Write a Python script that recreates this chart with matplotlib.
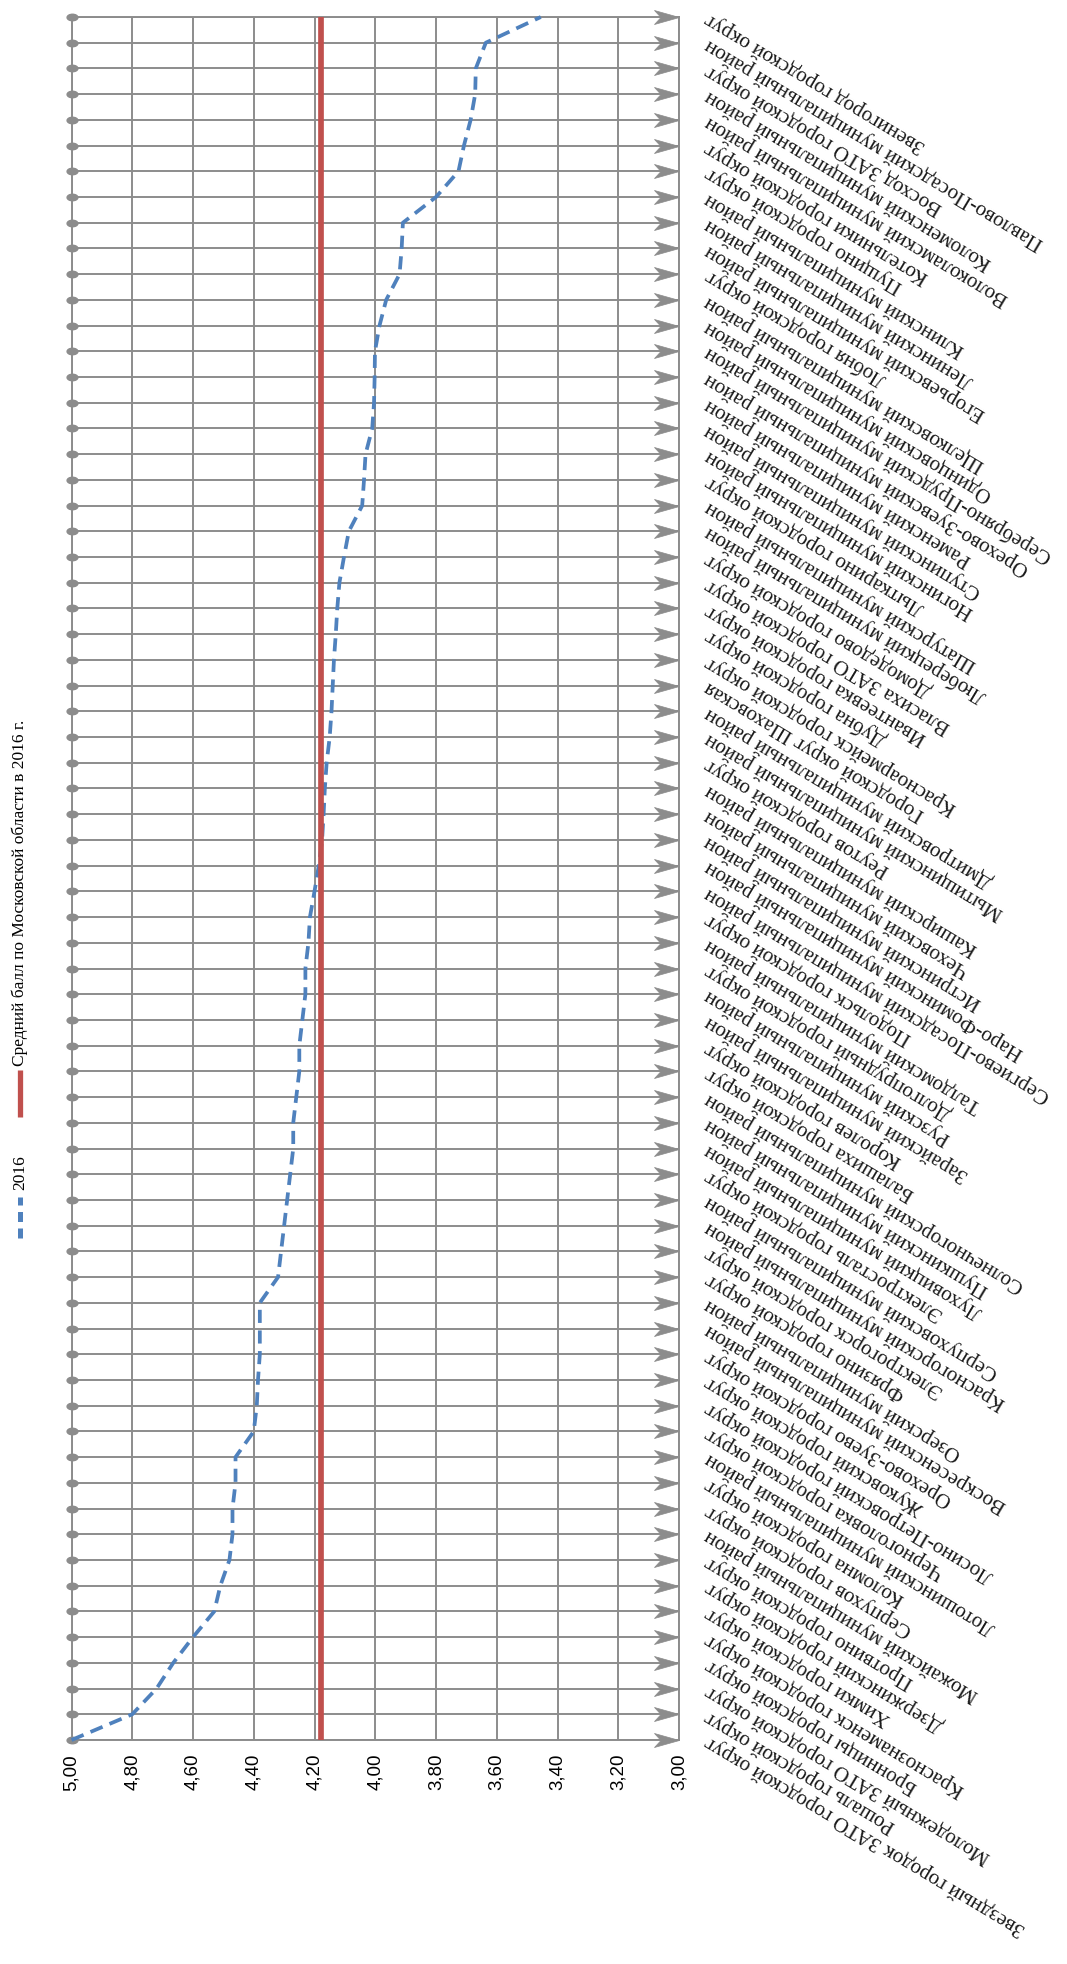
import numpy as np
import matplotlib
matplotlib.use("Agg")
import matplotlib.pyplot as plt
from matplotlib.markers import MarkerStyle
from matplotlib.path import Path
from matplotlib.transforms import Affine2D
from matplotlib.lines import Line2D

# Categories listed from the bottom of the chart (first) to the top (last)
categories = [
    "Звездный городок ЗАТО городской округ",
    "Рошаль городской округ",
    "Молодежный ЗАТО городской округ",
    "Бронницы городской округ",
    "Краснознаменск городской округ",
    "Химки городской округ",
    "Дзержинский городской округ",
    "Протвино городской округ",
    "Можайский муниципальный район",
    "Серпухов городской округ",
    "Коломна городской округ",
    "Лотошинский муниципальный район",
    "Черноголовка городской округ",
    "Лосино-Петровский городской округ",
    "Жуковский городской округ",
    "Орехово-Зуево городской округ",
    "Воскресенский муниципальный район",
    "Озерский муниципальный район",
    "Фрязино городской округ",
    "Электрогорск городской округ",
    "Красногорский муниципальный район",
    "Серпуховский муниципальный район",
    "Электросталь городской округ",
    "Луховицкий муниципальный район",
    "Пушкинский муниципальный район",
    "Солнечногорский муниципальный район",
    "Балашиха городской округ",
    "Королев городской округ",
    "Зарайский муниципальный район",
    "Рузский муниципальный район",
    "Долгопрудный городской округ",
    "Талдомский муниципальный район",
    "Подольск городской округ",
    "Сергиево-Посадский муниципальный район",
    "Наро-Фоминский муниципальный район",
    "Истринский муниципальный район",
    "Чеховский муниципальный район",
    "Каширский муниципальный район",
    "Реутов городской округ",
    "Мытищинский муниципальный район",
    "Дмитровский муниципальный район",
    "Городской округ Шаховская",
    "Красноармейск городской округ",
    "Дубна городской округ",
    "Ивантеевка городской округ",
    "Власиха ЗАТО городской округ",
    "Домодедово городской округ",
    "Люберецкий муниципальный район",
    "Шатурский муниципальный район",
    "Лыткарино городской округ",
    "Ногинский муниципальный район",
    "Ступинский муниципальный район",
    "Раменский муниципальный район",
    "Орехово-Зуевский муниципальный район",
    "Серебряно-Прудский муниципальный район",
    "Одинцовский муниципальный район",
    "Щелковский муниципальный район",
    "Лобня городской округ",
    "Егорьевский муниципальный район",
    "Ленинский муниципальный район",
    "Клинский муниципальный район",
    "Пущино городской округ",
    "Котельники городской округ",
    "Волоколамский муниципальный район",
    "Коломенский муниципальный район",
    "Восход ЗАТО городской округ",
    "Павлово-Посадский муниципальный район",
    "Звенигород городской округ",
]

values_2016 = [
    5.00, 4.80, 4.72, 4.665, 4.60, 4.53, 4.51, 4.48, 4.47, 4.47,
    4.46, 4.46, 4.40, 4.39, 4.386, 4.38, 4.38, 4.38, 4.32, 4.31,
    4.30, 4.29, 4.28, 4.27, 4.27, 4.26, 4.25, 4.25, 4.24, 4.23,
    4.23, 4.22, 4.215, 4.20, 4.186, 4.175, 4.17, 4.166, 4.16, 4.15,
    4.144, 4.14, 4.136, 4.13, 4.125, 4.118, 4.103, 4.087, 4.043, 4.037,
    4.032, 4.01, 4.004, 4.002, 4.001, 3.986, 3.964, 3.92, 3.913, 3.909,
    3.80, 3.726, 3.708, 3.686, 3.671, 3.669, 3.636, 3.455,
]

regional_mean = 4.18

value_ticks = [5.0, 4.8, 4.6, 4.4, 4.2, 4.0, 3.8, 3.6, 3.4, 3.2, 3.0]
value_tick_labels = ["5,00", "4,80", "4,60", "4,40", "4,20", "4,00",
                     "3,80", "3,60", "3,40", "3,20", "3,00"]

legend_labels = ["2016", "Средний балл по Московской области в 2016 г."]

BLUE = "#4F81BD"
RED = "#C0504D"
GRAY = "#8C8C8C"

W, H = 1067, 1964
fig = plt.figure(figsize=(W / 100, H / 100), dpi=100)
left, right, top, bottom = 71.5, 679, 17, 1740
ax = fig.add_axes([left / W, 1 - bottom / H, (right - left) / W, (bottom - top) / H])

pos = np.arange(1, len(categories) + 1)
ax.set_xlim(5.0, 3.0)
ax.set_ylim(1, len(categories))

ax.set_xticks(value_ticks)
ax.set_xticklabels(value_tick_labels, rotation=90, fontfamily="Liberation Sans",
                   fontsize=13.5, color="#000000")
ax.tick_params(axis="x", length=0, pad=10)

ax.yaxis.tick_right()
ax.set_yticks(pos)
ax.set_yticklabels(categories, rotation=149, rotation_mode="anchor", ha="right",
                   va="center", fontfamily="Liberation Serif", fontsize=15.2,
                   color="#1a1a1a")
ax.tick_params(axis="y", length=0, pad=20)

ax.grid(True, color=GRAY, lw=1.4, zorder=1)
ax.set_axisbelow(True)
for s in ax.spines.values():
    s.set_color(GRAY)
    s.set_linewidth(1.4)

# gridline end decorations: oval dot at left, stealth arrow at right
dot = MarkerStyle("o", transform=Affine2D().scale(1.0, 0.6))
ax.plot(np.full(len(pos), value_ticks[0]), pos, ls="none", marker=dot, ms=7.8,
        color=GRAY, mec=GRAY, clip_on=False, zorder=2)
arrow_path = Path([(0, 0), (-1, 0.28), (-0.74, 0), (-1, -0.28), (0, 0)],
                  [Path.MOVETO, Path.LINETO, Path.LINETO, Path.LINETO, Path.CLOSEPOLY])
ax.plot(np.full(len(pos), value_ticks[-1]), pos, ls="none", marker=MarkerStyle(arrow_path),
        ms=36, color=GRAY, mec=GRAY, mew=0.5, clip_on=False, zorder=2)

ax.plot(values_2016, pos, color=BLUE, lw=2.7, dashes=(3.5, 2.0), zorder=4,
        clip_on=False)
ax.plot(np.full(len(pos), regional_mean), pos, color=RED, lw=4.1, zorder=5,
        solid_capstyle="butt", clip_on=False)

# legend (rotated, at the left edge)
lx = 20 / W
fig.add_artist(Line2D([lx, lx], [1 - 1238 / H, 1 - 1197 / H], transform=fig.transFigure,
                      color=BLUE, lw=3.6, dashes=(2.0, 1.3)))
fig.text(lx, 1 - 1190 / H, legend_labels[0], rotation=90, ha="center", va="bottom",
         fontfamily="Liberation Serif", fontsize=12.5, color="#000000")
fig.add_artist(Line2D([lx, lx], [1 - 1117 / H, 1 - 1070 / H], transform=fig.transFigure,
                      color=RED, lw=3.8, solid_capstyle="butt"))
fig.text(lx, 1 - 1066 / H, legend_labels[1], rotation=90, ha="center", va="bottom",
         fontfamily="Liberation Serif", fontsize=12.5, color="#000000")

fig.savefig("out.png", dpi=100)
